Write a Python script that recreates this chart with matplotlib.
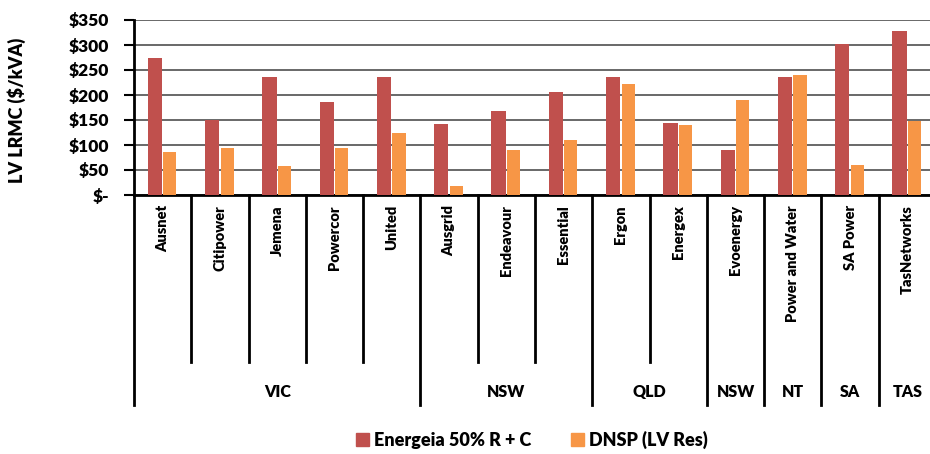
import matplotlib
matplotlib.use("Agg")
import matplotlib.pyplot as plt
import numpy as np
from matplotlib.patches import Patch

plt.rcParams['font.family'] = ['Lato', 'DejaVu Sans']
plt.rcParams['font.weight'] = 'heavy'

# данные
companies = ['Ausnet', 'Citipower', 'Jemena', 'Powercor', 'United',
             'Ausgrid', 'Endeavour', 'Essential', 'Ergon', 'Energex',
             'Evoenergy', 'Power and Water', 'SA Power', 'TasNetworks']
states = ['VIC', 'NSW', 'QLD', 'NSW', 'NT', 'SA', 'TAS']
state_sizes = [5, 3, 2, 1, 1, 1, 1]
energeia = [275, 150, 237, 186, 237, 143, 169, 207, 237, 144, 90, 237, 303, 329]
dnsp = [87, 95, 58, 94, 124, 19, 90, 111, 223, 140, 191, 240, 61, 149]
yticks = [0, 50, 100, 150, 200, 250, 300, 350]

RED = '#C0504D'
ORANGE = '#F79646'
FW = 'heavy'

fig = plt.figure(figsize=(9.3, 4.54), dpi=100)
W, H = 930, 454
ax_left, ax_right, ax_top, ax_bottom = 134, 936, 20, 195
ax = fig.add_axes([ax_left / W, (H - ax_bottom) / H,
                   (ax_right - ax_left) / W, (ax_bottom - ax_top) / H])
ax_h = ax_bottom - ax_top

x = np.arange(len(companies))
ax.bar(x - 0.135, energeia, width=0.25, color=RED, zorder=3)
ax.bar(x + 0.125, dnsp, width=0.23, color=ORANGE, zorder=3)

ax.set_xlim(-0.5, len(companies) - 0.5)
ax.set_ylim(0, 350)
ax.set_yticks(yticks)
ax.set_yticklabels(['$-' if v == 0 else f'${v}' for v in yticks], fontsize=12.5, fontweight=FW)
ax.tick_params(axis='y', length=7, width=1.5, pad=11)
ax.set_xticks([])
ax.yaxis.grid(True, color='#404040', lw=1.1, zorder=0)
ax.set_axisbelow(True)
for s in ['top', 'right']:
    ax.spines[s].set_visible(False)
ax.spines['left'].set_linewidth(2)
ax.spines['bottom'].set_linewidth(2)

# иерархическая ось категорий
tr = ax.get_xaxis_transform()
inner_end = -(362 - ax_bottom) / ax_h
outer_end = -(405 - ax_bottom) / ax_h
label_y = -(392 - ax_bottom) / ax_h

bounds = np.cumsum([0] + state_sizes) - 0.5
for i, name in enumerate(companies):
    ax.text(i, -10 / ax_h, name, rotation=90, ha='center', va='top',
            transform=tr, fontsize=10.5, fontweight=FW)
for k in range(len(companies) + 1):
    xb = k - 0.5
    if xb in bounds:
        ax.plot([xb, xb], [0, outer_end], transform=tr, color='black', lw=2, clip_on=False)
    else:
        ax.plot([xb, xb], [0, inner_end], transform=tr, color='black', lw=2, clip_on=False)
for j, st in enumerate(states):
    ax.text((bounds[j] + bounds[j + 1]) / 2, label_y, st, ha='center', va='center',
            transform=tr, fontsize=11.5, fontweight=FW)

fig.text(17 / W, (H - 110) / H, 'LV LRMC ($/kVA)', rotation=90, ha='center', va='center',
         fontsize=13, fontweight=FW)

handles = [Patch(color=RED, label='Energeia 50% R + C'),
           Patch(color=ORANGE, label='DNSP (LV Res)')]
fig.legend(handles=handles, loc='center', bbox_to_anchor=(0.572, (H - 440) / H), ncol=2,
           frameon=False, prop={'size': 13, 'weight': FW}, handlelength=0.7, handleheight=0.7,
           columnspacing=2.2, handletextpad=0.3)

fig.savefig('out.png', dpi=100)
